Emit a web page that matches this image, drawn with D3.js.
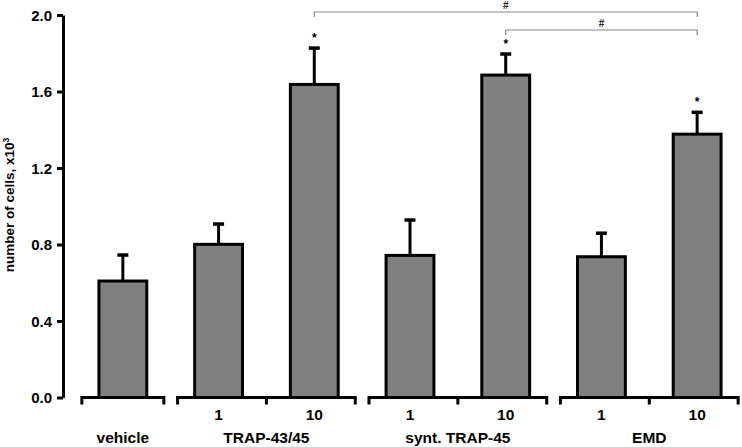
<!DOCTYPE html>
<html><head><meta charset="utf-8">
<script src="https://cdn.jsdelivr.net/npm/d3@7"></script>
<style>body{margin:0;background:#fff}svg{display:block}text{font-family:"Liberation Sans",Arial,sans-serif;font-weight:bold}</style>
</head><body><svg id="c" width="742" height="447"></svg>
<script>
const groups = ["vehicle","TRAP-43/45","synt. TRAP-45","EMD"];
const barGroup = ["vehicle","TRAP-43/45","TRAP-43/45","synt. TRAP-45","synt. TRAP-45","EMD","EMD"];
const doses = ["","1","10","1","10","1","10"];
const means = [0.609, 0.801, 1.637, 0.743, 1.686, 0.736, 1.377];
const errs  = [0.136, 0.106, 0.190, 0.185, 0.110, 0.123, 0.114];
const stars = [false,false,true,false,true,false,true];
const yTicks = [0.0,0.4,0.8,1.2,1.6,2.0];
const brackets = [{from:2,to:6,label:"#"},{from:4,to:6,label:"#"}];

const svg = d3.select("#c");
const keys = means.map((d,i)=>"b"+i);
const x = d3.scaleBand().domain(keys).range([75,745]).paddingInner(0.5).paddingOuter(0.25);
const y = d3.scaleLinear().domain([0,2]).range([397.5,15]);
const cx = i => x(keys[i]) + x.bandwidth()/2;

// y axis
const ya = svg.append("g").attr("transform","translate(63,0)")
  .call(d3.axisLeft(y).tickValues(yTicks).tickFormat(d3.format(".1f")).tickSize(6).tickSizeOuter(0));
ya.select(".domain").attr("stroke","#000").attr("stroke-width",3);
ya.selectAll(".tick line").attr("stroke","#000").attr("stroke-width",3);
ya.selectAll(".tick text").attr("font-size",15).attr("fill","#000").attr("x",-11).attr("dy","0.36em");

// y label
svg.append("text").attr("transform","translate(14,205) rotate(-90)").attr("text-anchor","middle")
  .attr("font-size",13.5).attr("fill","#000")
  .html('number of cells, x10<tspan dy="-5" font-size="8.5">3</tspan>');

// x axis segments per group
const pad = 41;
groups.forEach(g=>{
  const idx = barGroup.map((b,i)=>b===g?i:-1).filter(i=>i>=0);
  const x0 = cx(idx[0]) - pad, x1 = cx(idx[idx.length-1]) + pad;
  const base = y(0);
  svg.append("path").attr("d",`M${x0},${base+7}V${base}H${x1}V${base+7}`)
    .attr("fill","none").attr("stroke","#000").attr("stroke-width",3);
  if(idx.length>1){
    const m = (cx(idx[0])+cx(idx[1]))/2;
    svg.append("line").attr("x1",m).attr("x2",m).attr("y1",base).attr("y2",base+7)
      .attr("stroke","#000").attr("stroke-width",3);
  }
  svg.append("text").attr("x",(x0+x1)/2).attr("y",443).attr("text-anchor","middle")
    .attr("font-size",15.5).attr("fill","#000").text(g);
});
doses.forEach((d,i)=>{
  if(!d) return;
  svg.append("text").attr("x",cx(i)).attr("y",420).attr("text-anchor","middle")
    .attr("font-size",15.5).attr("fill","#000").text(d);
});

// error bars
means.forEach((m,i)=>{
  const c = cx(i);
  svg.append("line").attr("x1",c).attr("x2",c).attr("y1",y(m)).attr("y2",y(m+errs[i]))
    .attr("stroke","#000").attr("stroke-width",3);
  svg.append("line").attr("x1",c-5.5).attr("x2",c+5.5).attr("y1",y(m+errs[i])).attr("y2",y(m+errs[i]))
    .attr("stroke","#000").attr("stroke-width",3.5);
  if(stars[i]) svg.append("text").attr("x",c).attr("y",y(m+errs[i])-6).attr("text-anchor","middle")
    .attr("font-size",12).attr("font-weight","normal").attr("fill","#000").text("*");
});

// bars
svg.selectAll("rect.bar").data(means).join("rect").attr("class","bar")
  .attr("x",(d,i)=>x(keys[i])).attr("width",x.bandwidth())
  .attr("y",d=>y(d)).attr("height",d=>y(0)-y(d))
  .attr("fill","#808080").attr("stroke","#000").attr("stroke-width",3);

// significance brackets
const bY = [12,30];
brackets.forEach((b,k)=>{
  const a = cx(b.from), e = cx(b.to), yy = bY[k];
  svg.append("path").attr("d",`M${a},${yy+5}V${yy}H${e}V${yy+5}`)
    .attr("fill","none").attr("stroke","#888").attr("stroke-width",1.2);
  svg.append("text").attr("x",(a+e)/2).attr("y",yy-3).attr("text-anchor","middle")
    .attr("font-size",10).attr("fill","#222").text(b.label);
});
</script></body></html>
